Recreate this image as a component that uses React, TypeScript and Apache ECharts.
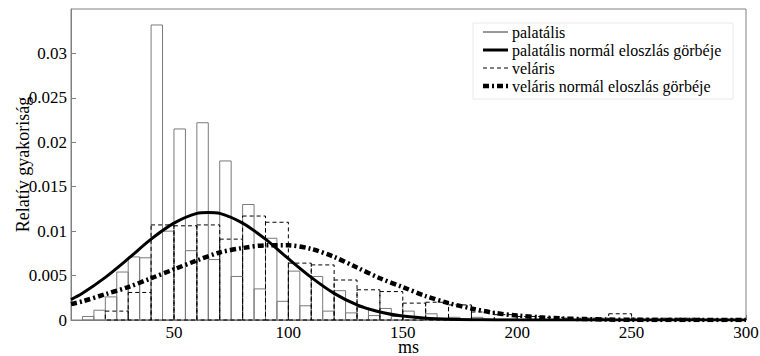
import React, { useEffect, useRef } from "react";
import * as echarts from "echarts";

// Histogram bins: [start, end] in ms, and relative frequency
const palBinStart = [10, 15, 20, 25, 30, 35, 40, 45, 50, 55, 60, 65, 70, 75, 80, 85, 90, 95, 100, 105, 110, 115, 120, 125, 130, 135, 140, 145, 150, 155, 160, 165, 170, 175, 180, 185, 190, 195];
const palBinEnd = [15, 20, 25, 30, 35, 40, 45, 50, 55, 60, 65, 70, 75, 80, 85, 90, 95, 100, 105, 110, 115, 120, 125, 130, 135, 140, 145, 150, 155, 160, 165, 170, 175, 180, 185, 190, 195, 200];
const palValues = [0.0004, 0.0011, 0.0026, 0.0054, 0.0071, 0.0070, 0.0332, 0.0100, 0.0215, 0.0078, 0.0222, 0.0068, 0.0179, 0.0049, 0.0130, 0.0035, 0.0092, 0.0021, 0.0055, 0.0016, 0.0049, 0.0010, 0.0033, 0.0008, 0.0014, 0.0005, 0.0013, 0.0004, 0.0010, 0.0002, 0.0007, 0.0002, 0.0003, 0.0001, 0.0003, 0.0001, 0.0001, 0.0001];

const velBinStart = [20, 30, 40, 50, 60, 70, 80, 90, 100, 110, 120, 130, 140, 150, 160, 170, 180, 190, 200, 210, 220, 230, 240, 250, 260, 270, 280, 290];
const velBinEnd = [30, 40, 50, 60, 70, 80, 90, 100, 110, 120, 130, 140, 150, 160, 170, 180, 190, 200, 210, 220, 230, 240, 250, 260, 270, 280, 290, 300];
const velValues = [0.0010, 0.0031, 0.0107, 0.0106, 0.0107, 0.0091, 0.0117, 0.0110, 0.0064, 0.0062, 0.0045, 0.0034, 0.0032, 0.0019, 0.0020, 0.0017, 0.0009, 0.0006, 0.0004, 0.0003, 0.0002, 0.0002, 0.0007, 0.0002, 0.0002, 0.0002, 0.0001, 0.0001];

// Normal distribution curves
const palCurveX = [5, 10, 20, 30, 40, 50, 60, 65, 70, 80, 90, 100, 110, 120, 130, 140, 150, 160, 170, 180, 190, 200, 220, 250, 300];
const palCurveY = [0.0023, 0.0030, 0.0048, 0.0069, 0.0091, 0.0109, 0.0120, 0.0121, 0.0120, 0.0109, 0.0091, 0.0069, 0.0048, 0.0030, 0.0017, 0.0009, 0.00044, 0.0002, 0.00008, 0.00003, 0.00001, 0, 0, 0, 0];

const velCurveX = [5, 10, 20, 30, 40, 50, 60, 70, 80, 90, 100, 110, 120, 130, 140, 150, 160, 170, 180, 190, 200, 210, 220, 230, 240, 250, 260, 280, 300];
const velCurveY = [0.0018, 0.0021, 0.0029, 0.0037, 0.0047, 0.0057, 0.0067, 0.0076, 0.0081, 0.0084, 0.0084, 0.0080, 0.0071, 0.0059, 0.0047, 0.0037, 0.0027, 0.0019, 0.0013, 0.0008, 0.0005, 0.0003, 0.00017, 0.0001, 0.00005, 0.00002, 0.00001, 0, 0];

const legendLabels = [
  "palatális",
  "palatális normál eloszlás görbéje",
  "veláris",
  "veláris normál eloszlás görbéje",
];

const FONT = "Liberation Serif";
const AXIS_GREY = "#808080";

function histRender(stroke: string, dash: number[] | null) {
  return (params: any, api: any) => {
    const x0 = api.value(0);
    const x1 = api.value(1);
    const y = api.value(2);
    const pTop = api.coord([x0, y]);
    const pBot = api.coord([x1, 0]);
    return {
      type: "rect",
      shape: { x: pTop[0], y: pTop[1], width: pBot[0] - pTop[0], height: pBot[1] - pTop[1] },
      style: { fill: "none", stroke, lineWidth: 1, lineDash: dash || undefined },
    };
  };
}

const labelStyle = {
  color: "#000",
  fontFamily: FONT,
  fontSize: 17,
  fontWeight: "normal",
  textStyle: { color: "#000", fontFamily: FONT, fontSize: 17 },
};

export default function App() {
  const ref = useRef<HTMLDivElement>(null);

  useEffect(() => {
    if (!ref.current) return;
    const chart = echarts.init(ref.current, null, { renderer: "svg" });

    const palData = palValues.map((v, i) => [palBinStart[i], palBinEnd[i], v]);
    const velData = velValues.map((v, i) => [velBinStart[i], velBinEnd[i], v]);
    const palCurve = palCurveX.map((x, i) => [x, palCurveY[i]]);
    const velCurve = velCurveX.map((x, i) => [x, velCurveY[i]]);

    const lx = 483;
    const lx2 = 508;
    const rows = [32, 50, 68, 86];

    const option: any = {
      animation: false,
      backgroundColor: "#ffffff",
      textStyle: { fontFamily: FONT, fontSize: 17, color: "#000" },
      grid: {
        left: 71,
        right: 14,
        top: 9,
        bottom: 36,
        containLabel: false,
        outerBoundsMode: "none",
        show: true,
        borderColor: AXIS_GREY,
        borderWidth: 1,
        backgroundColor: "transparent",
      },
      xAxis: {
        type: "value",
        min: 5,
        max: 300,
        splitNumber: 6,
        axisLine: { lineStyle: { color: AXIS_GREY, width: 1 } },
        axisTick: { inside: true, length: 5, lineStyle: { color: AXIS_GREY } },
        axisLabel: { ...labelStyle, margin: 4, showMinLabel: false },
        splitLine: { show: false },
        name: "ms",
        nameLocation: "middle",
        nameGap: 18,
        nameMoveOverlap: false,
        nameTextStyle: { color: "#000", fontFamily: FONT, fontSize: 18 },
      },
      yAxis: {
        type: "value",
        min: 0,
        max: 0.035,
        interval: 0.005,
        axisLine: { show: true, lineStyle: { color: AXIS_GREY, width: 1 } },
        axisTick: { show: true, inside: true, length: 5, lineStyle: { color: AXIS_GREY } },
        axisLabel: { ...labelStyle, margin: 4, showMaxLabel: false },
        splitLine: { show: false },
        name: "Relatív gyakoriság",
        nameLocation: "middle",
        nameGap: 39,
        nameRotate: 90,
        nameMoveOverlap: false,
        nameTextStyle: { color: "#000", fontFamily: FONT, fontSize: 18 },
      },
      series: [
        {
          name: legendLabels[0],
          type: "custom",
          renderItem: histRender("#7a7a7a", null),
          encode: { x: [0, 1], y: 2 },
          data: palData,
          z: 1,
        },
        {
          name: legendLabels[2],
          type: "custom",
          renderItem: histRender("#000000", [4, 3]),
          encode: { x: [0, 1], y: 2 },
          data: velData,
          z: 2,
        },
        {
          name: legendLabels[1],
          type: "line",
          data: palCurve,
          smooth: 0.3,
          showSymbol: false,
          symbol: "none",
          lineStyle: { color: "#000", width: 3 },
          z: 3,
        },
        {
          name: legendLabels[3],
          type: "line",
          data: velCurve,
          smooth: 0.3,
          showSymbol: false,
          symbol: "none",
          lineStyle: { color: "#000", width: 4.5, type: [6, 3, 2, 3] },
          z: 3,
        },
      ],
      graphic: [
        {
          type: "group",
          z: 100,
          children: [
            {
              type: "rect",
              shape: { x: 473, y: 23, width: 260, height: 76 },
              style: { fill: "#ffffff", stroke: "#e8e8e8", lineWidth: 1 },
            },
            { type: "line", shape: { x1: lx, y1: rows[0], x2: lx2, y2: rows[0] }, style: { stroke: "#333", lineWidth: 1 } },
            { type: "line", shape: { x1: lx, y1: rows[1], x2: lx2, y2: rows[1] }, style: { stroke: "#000", lineWidth: 3 } },
            { type: "line", shape: { x1: lx, y1: rows[2], x2: lx2, y2: rows[2] }, style: { stroke: "#000", lineWidth: 1, lineDash: [4, 3] } },
            { type: "line", shape: { x1: lx, y1: rows[3], x2: lx2, y2: rows[3] }, style: { stroke: "#000", lineWidth: 4.5, lineDash: [6, 3, 2, 3] } },
            ...legendLabels.map((t, i) => ({
              type: "text",
              x: 512,
              y: rows[i],
              style: {
                text: t,
                fill: "#000",
                fontFamily: FONT,
                fontSize: 16,
                verticalAlign: "middle",
                align: "left",
              },
            })),
          ],
        },
      ],
    };

    chart.setOption(option);
    return () => chart.dispose();
  }, []);

  return (
    <div
      ref={ref}
      style={{ position: "absolute", left: 0, top: 0, width: 760, height: 356 }}
    />
  );
}
